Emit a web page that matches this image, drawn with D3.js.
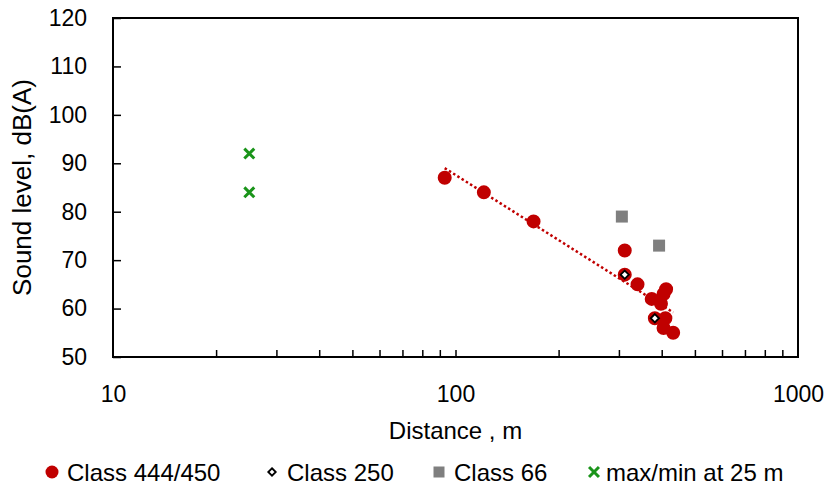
<!DOCTYPE html>
<html>
<head>
<meta charset="utf-8">
<script src="https://cdn.jsdelivr.net/npm/d3@7"></script>
<style>
  body { margin: 0; background: #fff; }
  svg text { font-family: "Liberation Sans", Arial, sans-serif; fill: #000; }
</style>
</head>
<body>
<div id="chart"></div>
<script>
// values: [distance m, level dB(A)]
const class444 = [[93, 87], [121, 84], [169, 78], [312, 72], [312, 67], [340, 65], [374, 62],
    [398, 61], [412, 64], [405, 63], [382, 58], [410, 58], [405, 56], [432, 55]];
const class250 = [[312, 67], [382, 58]];
const class66 = [[306, 79], [393, 73]];
const maxMin25 = [[25, 92], [25, 84]];

const xLabels = [10, 100, 1000];
const xMinor = [20, 30, 40, 50, 60, 70, 80, 90, 100, 200, 300, 400, 500, 600, 700, 800, 900];
const yTicks = [50, 60, 70, 80, 90, 100, 110, 120];
const legendNames = ["Class 444/450", "Class 250", "Class 66", "max/min at 25 m"];

const width = 827, height = 485,
    plot = { left: 113, right: 798, top: 18, bottom: 357 };

const red = "#c00000", gray = "#7f7f7f", green = "#1a941a";

const svg = d3.select("#chart").append("svg")
    .attr("width", width)
    .attr("height", height);

const x = d3.scaleLog().domain([10, 1000]).range([plot.left, plot.right]);
const y = d3.scaleLinear().domain([50, 120]).range([plot.bottom, plot.top]);

// x axis: inner ticks, labels only at decades
svg.append("g")
    .attr("transform", `translate(0,${plot.bottom})`)
    .call(d3.axisBottom(x).tickValues(xMinor).tickSize(-7).tickFormat(""))
    .call(g => g.select(".domain").remove())
    .call(g => g.selectAll("line").attr("stroke", "#000").attr("stroke-width", 1.5));

svg.append("g")
    .attr("transform", `translate(0,${plot.bottom})`)
    .call(d3.axisBottom(x).tickValues(xLabels).tickSize(0).tickFormat(d3.format("d")))
    .call(g => g.select(".domain").remove())
    .call(g => g.selectAll("text")
        .attr("y", 45).attr("dy", null)
        .style("font-size", "23px")
        .style("font-family", '"Liberation Sans", Arial, sans-serif'));

// y axis
svg.append("g")
    .attr("transform", `translate(${plot.left},0)`)
    .call(d3.axisLeft(y).tickValues(yTicks).tickSize(-8).tickPadding(26))
    .call(g => g.select(".domain").remove())
    .call(g => g.selectAll("line").attr("stroke", "#000").attr("stroke-width", 1.5))
    .call(g => g.selectAll("text")
        .style("font-size", "23px")
        .style("font-family", '"Liberation Sans", Arial, sans-serif'));

// frame
svg.append("rect")
    .attr("x", plot.left).attr("y", plot.top)
    .attr("width", plot.right - plot.left)
    .attr("height", plot.bottom - plot.top)
    .attr("fill", "none")
    .attr("stroke", "#000")
    .attr("stroke-width", 2);

// axis titles
svg.append("text")
    .attr("x", (plot.left + plot.right) / 2)
    .attr("y", 439)
    .attr("text-anchor", "middle")
    .style("font-size", "24px")
    .text("Distance , m");

svg.append("text")
    .attr("transform", `translate(31,${(plot.top + plot.bottom) / 2}) rotate(-90)`)
    .attr("text-anchor", "middle")
    .style("font-size", "26px")
    .text("Sound level, dB(A)");

// logarithmic trendline for the class 444/450 points
const lx = class444.map(d => Math.log10(d[0])),
    ly = class444.map(d => d[1]);
const mx = d3.mean(lx), my = d3.mean(ly);
const slope = d3.sum(lx, (v, i) => (v - mx) * (ly[i] - my)) / d3.sum(lx, v => (v - mx) ** 2);
const fit = v => my + slope * (Math.log10(v) - mx);
const xExt = d3.extent(class444, d => d[0]);

svg.append("path")
    .attr("d", d3.line()(xExt.map(v => [x(v), y(fit(v))])))
    .attr("fill", "none")
    .attr("stroke", red)
    .attr("stroke-width", 2.5)
    .attr("stroke-dasharray", "2.5,2.5");

// series
const symbols = [
    { data: class444, type: d3.symbolCircle, size: 154, fill: red, stroke: "none", sw: 0 },
    { data: class250, type: d3.symbolDiamond2, size: 44, fill: "#fff", stroke: "#000", sw: 1.8 },
    { data: class66, type: d3.symbolSquare, size: 144, fill: gray, stroke: "none", sw: 0 },
    { data: maxMin25, type: d3.symbolX, size: 66, fill: "none", stroke: green, sw: 3 }
];

symbols.forEach(s => {
    svg.append("g")
        .selectAll("path")
        .data(s.data)
        .join("path")
        .attr("transform", d => `translate(${x(d[0])},${y(d[1])})`)
        .attr("d", d3.symbol(s.type, s.size))
        .attr("fill", s.fill)
        .attr("stroke", s.stroke)
        .attr("stroke-width", s.sw);
});

// legend
const legendX = [52, 272, 439, 594];
const legendSizes = [133, 36, 121, 66];
const legend = svg.append("g");

legendNames.forEach((name, i) => {
    const s = symbols[i];
    legend.append("path")
        .attr("transform", `translate(${legendX[i]},472)`)
        .attr("d", d3.symbol(s.type, legendSizes[i]))
        .attr("fill", s.fill)
        .attr("stroke", s.stroke)
        .attr("stroke-width", s.sw);
    legend.append("text")
        .attr("x", legendX[i] + (i === 3 ? 12 : 15))
        .attr("y", 481)
        .style("font-size", "24px")
        .text(name);
});
</script>
</body>
</html>
